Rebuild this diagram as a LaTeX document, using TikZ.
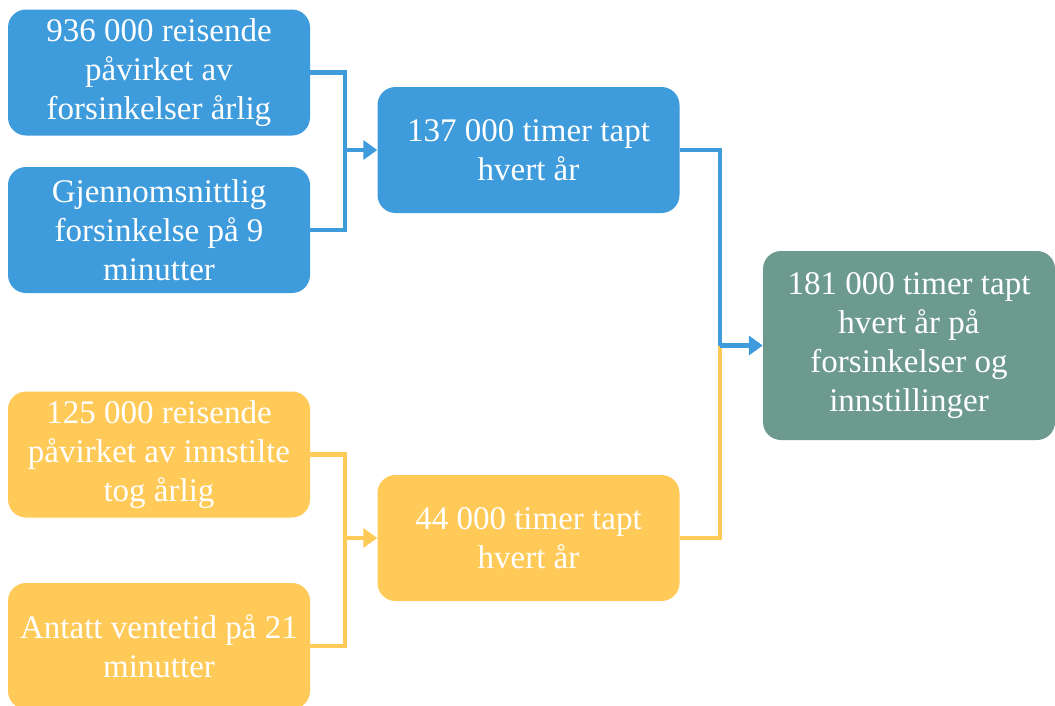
\documentclass[tikz,border=0pt]{standalone}
\usepackage{fontspec}
\setmainfont{Liberation Serif}
\usetikzlibrary{arrows.meta}
\definecolor{cblue}{HTML}{3E9BDC}
\definecolor{cyellow}{HTML}{FFCA58}
\definecolor{cgreen}{HTML}{6C9A8F}
\tikzset{
  box/.style={rounded corners=18pt, minimum width=302pt, minimum height=126pt, inner sep=0pt,
    align=center, text=white, font=\fontsize{33}{39}\selectfont},
  bluebox/.style={box, fill=cblue},
  yelbox/.style={box, fill=cyellow},
  greenbox/.style={box, fill=cgreen, minimum width=292pt, minimum height=189pt},
  conn/.style={line width=4.5pt},
  tip/.style={-{Triangle[length=14pt,width=19pt]}},
}
\begin{document}
\begin{tikzpicture}[x=1pt,y=-1pt]
\fill[white] (0,0) rectangle (1055,705);
\useasboundingbox (0,0) rectangle (1055,705);
\begin{scope}
\clip (0,0) rectangle (1055,705);
\node[bluebox] (a1) at (159,72.5) {936 000 reisende\\påvirket av\\forsinkelser årlig};
\node[bluebox] (a2) at (159,230) {Gjennomsnittlig\\forsinkelse på 9\\minutter};
\node[bluebox] (b1) at (528.5,150) {137 000 timer tapt\\hvert år};
\node[yelbox] (c1) at (159,454.5) {125 000 reisende\\påvirket av innstilte\\tog årlig};
\node[yelbox] (c2) at (159,646) {Antatt ventetid på 21\\minutter};
\node[yelbox] (b2) at (528.5,538) {44 000 timer tapt\\hvert år};
\node[greenbox] (g) at (909,345.5) {181 000 timer tapt\\hvert år på\\forsinkelser og\\innstillinger};
\coordinate (j1) at (345,150);
\coordinate (j3) at (345,538);
\coordinate (j2) at (720,345.5);
\draw[conn, cblue] (a1.east) -| (j1) |- (a2.east);
\draw[conn, cblue, tip] (j1) -- (b1.west);
\draw[conn, cyellow] (c1.east) -| (j3) |- (c2.east);
\draw[conn, cyellow, tip] (j3) -- (b2.west);
\draw[conn, cyellow] (b2.east) -| (j2);
\draw[conn, cblue] (b1.east) -| (j2);
\draw[conn, cblue, tip] (j2) -- (g.west);
\end{scope}
\end{tikzpicture}
\end{document}
